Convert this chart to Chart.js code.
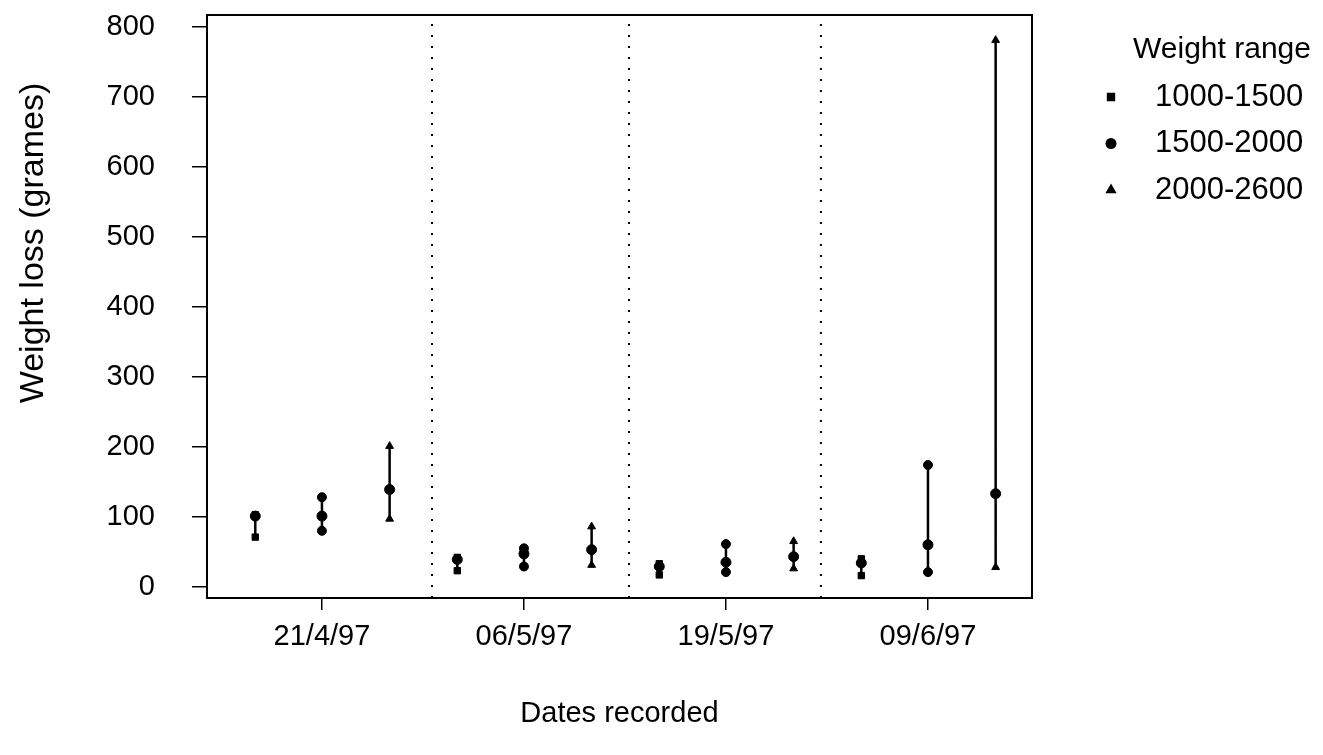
<!DOCTYPE html>
<html>
<head>
<meta charset="utf-8">
<script src="https://cdn.jsdelivr.net/npm/chart.js@4/dist/chart.umd.min.js"></script>
<style>
  html, body { margin: 0; padding: 0; background: #fff; }
  #wrap { width: 1323px; height: 755px; }
</style>
</head>
<body>
<div id="wrap"><canvas id="chart"></canvas></div>
<script>
// data
const dateLabels = ["21/4/97", "06/5/97", "19/5/97", "09/6/97"];
const rangeLabels = ["1000-1500", "1500-2000", "2000-2600"];
const rangeStyles = ["rect", "circle", "triangle"];
const rangeOffsets = [-0.33, 0, 0.335];
const lowVals = [
  [71, 23, 17, 16],
  [80, 29, 21, 21],
  [97, 31, 26, 28],
];
const meanVals = [
  [101, 39, 29, 34],
  [101, 47, 35, 60],
  [139, 53, 43, 133],
];
const highVals = [
  [103, 42, 33, 40],
  [128, 55, 61, 174],
  [201, 86, 65, 781],
];
const separators = [1.545, 2.52, 3.47];
const yTicks = [0, 100, 200, 300, 400, 500, 600, 700, 800];

const FONT = "'Liberation Sans', Arial, sans-serif";
const yMin = -16, yMax = 817;

let datasets = [];
rangeLabels.forEach((lab, s) => {
  let pts = [];
  for (let g = 0; g < dateLabels.length; g++) {
    const x = g + 1 + rangeOffsets[s];
    pts.push({ x: x, y: lowVals[s][g] });
    pts.push({ x: x, y: highVals[s][g] });
    pts.push({ x: x, y: null });
  }
  datasets.push({
    label: lab,
    data: pts,
    showLine: true,
    spanGaps: false,
    borderColor: "#000",
    backgroundColor: "#000",
    borderWidth: 2.5,
    pointStyle: rangeStyles[s],
    pointRadius: 4.5,
    pointBorderWidth: 1,
  });
});

// means
let meanPts = [];
rangeLabels.forEach((lab, s) => {
  for (let g = 0; g < dateLabels.length; g++) {
    meanPts.push({ x: g + 1 + rangeOffsets[s], y: meanVals[s][g] });
  }
});
datasets.push({
  label: "mean",
  data: meanPts,
  showLine: false,
  borderColor: "#000",
  backgroundColor: "#000",
  pointStyle: "circle",
  pointRadius: 5,
});

// dotted separators between dates
separators.forEach((sx) => {
  datasets.push({
    label: "sep",
    data: [{ x: sx, y: yMin }, { x: sx, y: yMax }],
    showLine: true,
    borderColor: "#000",
    borderWidth: 2,
    borderDash: [2, 9],
    pointRadius: 0,
  });
});

const framePlugin = {
  id: "frame",
  afterDraw(chart) {
    const { ctx, chartArea } = chart;
    ctx.save();
    ctx.strokeStyle = "#000";
    ctx.lineWidth = 2;
    ctx.strokeRect(chartArea.left, chartArea.top, chartArea.right - chartArea.left, chartArea.bottom - chartArea.top);

    ctx.fillStyle = "#000";
    ctx.textBaseline = "middle";

    // y title
    ctx.save();
    ctx.translate(34, 243);
    ctx.rotate(-Math.PI / 2);
    ctx.textAlign = "center";
    ctx.font = "34px " + FONT;
    ctx.fillText("Weight loss (grames)", 0, 0);
    ctx.restore();

    // legend
    ctx.font = "30px " + FONT;
    ctx.textAlign = "center";
    ctx.fillText("Weight range", 1222, 50);
    ctx.textAlign = "left";
    ctx.font = "31px " + FONT;
    rangeLabels.forEach((lab, i) => {
      const y = 97 + i * 46.5;
      Chart.helpers.drawPoint(ctx, {
        pointStyle: rangeStyles[i], radius: 4.5, borderWidth: 1, rotation: 0
      }, 1111, y);
      ctx.fill();
      ctx.fillText(lab, 1155, y);
    });
    ctx.restore();
  }
};

new Chart(document.getElementById("chart"), {
  type: "scatter",
  data: { datasets: datasets },
  plugins: [framePlugin],
  options: {
    responsive: true,
    maintainAspectRatio: false,
    animation: false,
    layout: { padding: { top: 15, right: 291, left: 0, bottom: 0 } },
    plugins: {
      legend: { display: false },
      tooltip: { enabled: false },
    },
    scales: {
      x: {
        type: "linear",
        min: 0.431,
        max: 4.515,
        afterBuildTicks: (scale) => {
          scale.ticks = dateLabels.map((d, i) => ({ value: i + 1 }));
        },
        afterFit: (scale) => {
          scale.height = 157;
          scale.paddingLeft = 0;
          scale.paddingRight = 0;
        },
        ticks: {
          color: "#000",
          font: { family: FONT, size: 29 },
          padding: 10,
          maxRotation: 0,
          autoSkip: false,
          callback: (v) => dateLabels[Math.round(v) - 1],
        },
        grid: { drawOnChartArea: false, color: "#000", lineWidth: 1.5, tickLength: 12 },
        border: { display: false },
        title: {
          display: true,
          text: "Dates recorded",
          color: "#000",
          font: { family: FONT, size: 29 },
          padding: { top: 0, bottom: 24 },
        },
      },
      y: {
        type: "linear",
        min: yMin,
        max: yMax,
        afterBuildTicks: (scale) => {
          scale.ticks = yTicks.map((v) => ({ value: v }));
        },
        afterFit: (scale) => {
          scale.width = 207;
          scale.paddingTop = 0;
          scale.paddingBottom = 0;
        },
        ticks: {
          color: "#000",
          font: { family: FONT, size: 29 },
          padding: 37,
        },
        grid: { drawOnChartArea: false, color: "#000", lineWidth: 1.5, tickLength: 15 },
        border: { display: false },
        title: { display: false },
      },
    },
  },
});
</script>
</body>
</html>
